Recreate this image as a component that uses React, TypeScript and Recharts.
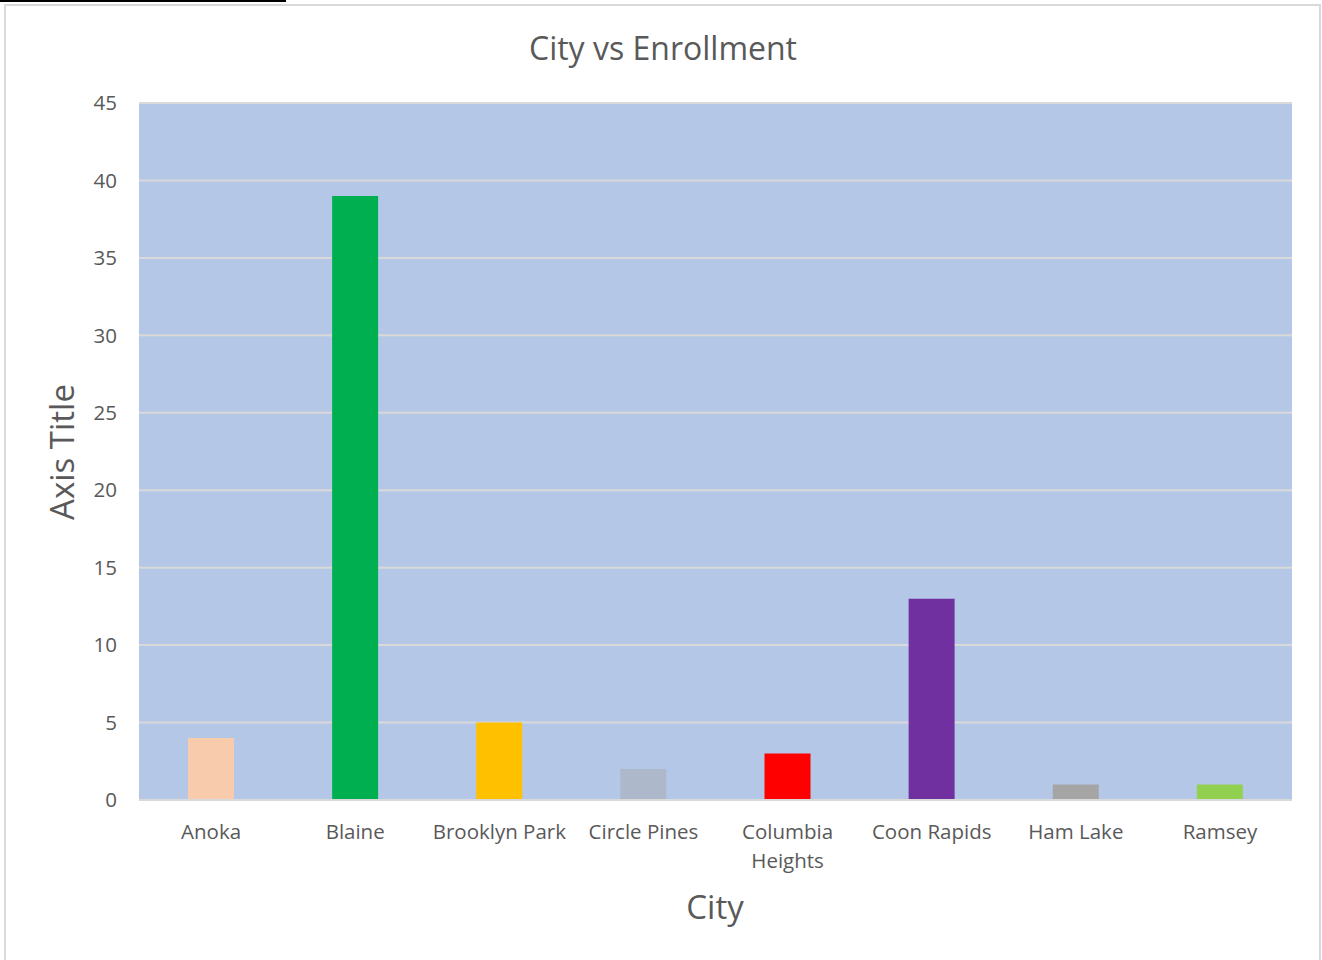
import { BarChart, Bar, XAxis, YAxis, CartesianGrid, Cell } from "recharts";

const cities = [
  "Anoka",
  "Blaine",
  "Brooklyn Park",
  "Circle Pines",
  "Columbia Heights",
  "Coon Rapids",
  "Ham Lake",
  "Ramsey",
];
const enrollment = [4, 39, 5, 2, 3, 13, 1, 1];
const barColors = ["#F8CBAD", "#00B050", "#FFC000", "#ADB9CA", "#FF0000", "#7030A0", "#A5A5A5", "#92D050"];
const yTicks = [0, 5, 10, 15, 20, 25, 30, 35, 40, 45];

const data = cities.map((city, i) => ({ city, value: enrollment[i] }));

const FONT = "'Open Sans', 'Noto Sans', sans-serif";
const TEXT = "#595959";
const TICK_SIZE = 20.5;
const tickStyle = { fontSize: TICK_SIZE, fontFamily: FONT };

let ctx: CanvasRenderingContext2D | null = null;
function measure(s: string) {
  if (!ctx) {
    ctx = document.createElement("canvas").getContext("2d");
  }
  if (!ctx) return s.length * TICK_SIZE * 0.55;
  ctx.font = `${TICK_SIZE}px 'Open Sans'`;
  return ctx.measureText(s).width;
}

function wrap(label: string, maxWidth: number) {
  const words = label.split(" ");
  const lines: string[] = [];
  let cur = "";
  for (const w of words) {
    const next = cur ? cur + " " + w : w;
    if (cur && measure(next) > maxWidth) {
      lines.push(cur);
      cur = w;
    } else {
      cur = next;
    }
  }
  if (cur) lines.push(cur);
  return lines;
}

function CityTick(props: any) {
  const { x, y, payload } = props;
  const lines = wrap(String(payload.value), 142);
  return (
    <text x={x} y={y} textAnchor="middle" fill={TEXT} style={tickStyle}>
      {lines.map((l, i) => (
        <tspan key={i} x={x} dy={i === 0 ? "0.71em" : 29}>
          {l}
        </tspan>
      ))}
    </text>
  );
}

export default function App() {
  return (
    <div style={{ position: "absolute", left: 0, top: 0, width: 1322, height: 960, background: "#fff", overflow: "hidden", fontFamily: FONT }}>
      <div style={{ position: "absolute", left: 0, top: 0, width: 286, height: 2, background: "#000" }} />
      <div
        style={{
          position: "absolute",
          left: 4,
          top: 4,
          width: 1317,
          height: 1000,
          border: "2px solid #D9D9D9",
          boxSizing: "border-box",
        }}
      />
      <div style={{ position: "absolute", left: 0, width: 1326, top: 28, textAlign: "center", fontSize: 32, color: TEXT, lineHeight: "40px" }}>
        City vs Enrollment
      </div>
      <div style={{ position: "absolute", left: 0, width: 1430, top: 887, textAlign: "center", fontSize: 33, color: TEXT, lineHeight: "40px" }}>
        City
      </div>
      <div
        style={{
          position: "absolute",
          left: 62,
          top: 452,
          transform: "translate(-50%, -50%) rotate(-90deg)",
          whiteSpace: "nowrap",
          fontSize: 33,
          color: TEXT,
          lineHeight: "40px",
        }}
      >
        Axis Title
      </div>
      <BarChart
        width={1322}
        height={960}
        data={data}
        margin={{ top: 103, right: 30, bottom: 130, left: 0 }}
        style={{ position: "absolute", left: 0, top: 0 }}
      >
        <CartesianGrid fill="#B4C7E7" vertical={false} stroke="#D9D9D9" strokeWidth={2} />
        <XAxis
          dataKey="city"
          height={30}
          interval={0}
          tickLine={false}
          axisLine={{ stroke: "#D9D9D9", strokeWidth: 2 }}
          tick={<CityTick />}
          tickSize={0}
          tickMargin={24}
        />
        <YAxis
          width={139}
          domain={[0, 45]}
          ticks={yTicks}
          tickLine={false}
          axisLine={false}
          tickSize={0}
          tickMargin={22}
          tick={{ fill: TEXT, ...tickStyle }}
        />
        <Bar dataKey="value" barSize={46} isAnimationActive={false}>
          {data.map((d, i) => (
            <Cell key={d.city} fill={barColors[i]} />
          ))}
        </Bar>
      </BarChart>
    </div>
  );
}
